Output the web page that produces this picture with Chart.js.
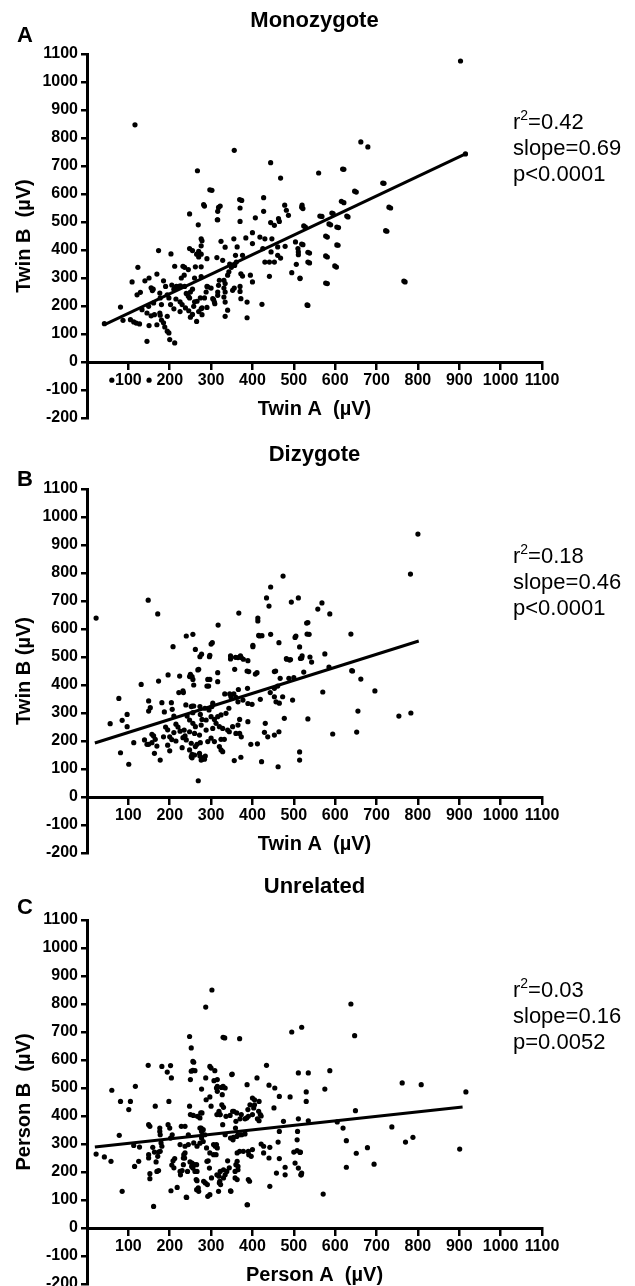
<!DOCTYPE html>
<html>
<head>
<meta charset="utf-8">
<script src="https://cdn.jsdelivr.net/npm/chart.js@4"></script>
<style>
  body { margin: 0; background: #fff; overflow: hidden; }
  #wrap { position: relative; width: 635px; height: 1286px; }
  canvas { position: absolute; left: 0; }
</style>
</head>
<body>
<div id="wrap">
  <canvas id="panelA" width="635" height="440" style="top:0px"></canvas>
  <canvas id="panelB" width="635" height="440" style="top:430px"></canvas>
  <canvas id="panelC" width="635" height="440" style="top:862px"></canvas>
</div>
<script>
// values, [Twin A, Twin B] in µV
const monoPoints = [
  [42,137],[81,196],[87,149],[105,151],[113,143],[119,139],[127,136],[123,338],[109,286],[129,249],[121,240],[145,74],
  [149,199],[145,175],[133,187],[161,211],[163,169],[169,133],[176,175],[177,167],[176,246],[177,229],[180,205],[173,398],
  [169,314],[194,240],[198,229],[202,205],[194,163],[198,104],[194,110],[200,80],[212,68],[203,386],[212,342],[232,342],
  [236,338],[216,270],[222,270],[226,272],[236,270],[240,245],[245,235],[248,229],[238,193],[246,183],[258,199],[266,217],
  [274,229],[248,529],[269,490],[278,433],[248,405],[255,398],[290,270],[300,264],[278,193],[290,195],[278,169],[282,562],
  [315,508],[267,683],[297,615],[306,223],[140,290],[150,300],[155,265],[158,255],[185,290],[190,270],[205,275],[210,260],
  [215,225],[225,215],[230,205],[250,250],[255,260],[260,300],[262,340],[265,385],[270,375],[270,395],[245,330],[228,300],
  [235,310],[180,150],[185,140],[188,125],[210,190],[225,180],[255,170],[265,145],[270,180],[150,130],[155,165],[160,260],
  [260,215],[250,160],[60,-65],[150,-65],[116,847],
  [356,756],[444,712],[468,657],[560,675],[621,688],[662,786],[679,768],[302,613],[284,557],[318,552],[322,557],[316,538],
  [316,508],[374,577],[370,550],[370,502],[427,587],[427,538],[407,515],[444,498],[453,488],[463,512],[465,502],[482,542],
  [487,524],[520,560],[522,548],[528,482],[568,520],[589,490],[595,530],[608,480],[615,574],[621,569],[631,518],[651,607],
  [718,638],[734,550],[725,467],[769,286],[276,440],[276,415],[276,385],[276,340],[276,305],[276,190],[290,369],[314,373],
  [324,431],[334,410],[328,363],[355,440],[363,411],[359,381],[361,357],[357,345],[376,381],[372,315],[376,307],[384,443],
  [400,462],[400,423],[395,310],[400,286],[418,446],[430,440],[447,440],[425,405],[430,357],[441,357],[453,357],[441,306],
  [445,393],[461,411],[461,381],[468,371],[479,413],[504,429],[510,405],[511,393],[511,383],[522,419],[506,349],[495,319],
  [515,298],[538,389],[538,354],[534,202],[581,446],[581,375],[603,339],[607,417],[581,280],[423,206],[387,214],[387,158],
  [370,270],[370,252],[372,226],[356,264],[352,256],[345,350],[349,338],[340,310],[343,322],[331,292],[334,280],[331,264],
  [334,250],[331,232],[334,214],[340,185],[334,163],[320,292],[318,274],[316,250],[316,238],[308,214],[309,208],[304,226],
  [292,268],[288,250],[284,229],[903,1075],[915,743],[618,689],[715,639],[647,610],[519,553],[563,521],[592,532],[628,521],
  [585,493],[604,482],[730,553],[722,469],[524,486],[519,421],[534,392],[534,357],[577,450],[577,379],[604,418],[599,343],
  [577,282],[532,204],[766,289],[515,300],[369,580],[478,560]
];
const diPoints = [
  [22,639],[148,703],[171,654],[317,614],[367,657],[413,639],[413,629],[434,711],[440,682],[444,750],[474,789],[494,696],
  [511,711],[531,621],[558,671],[568,693],[587,654],[800,939],[782,796],[532,582],[638,582],[514,536],[519,496],[539,500],
  [543,482],[575,511],[585,464],[524,446],[642,450],[662,421],[570,375],[696,379],[655,307],[534,279],[754,289],[783,300],
  [594,225],[652,232],[514,161],[514,132],[417,575],[423,576],[444,581],[464,551],[503,570],[516,495],[483,492],[490,489],
  [640,451],[453,448],[488,424],[467,424],[477,281],[462,108],[422,126],[356,130],[372,142],[269,58],[389,269],[431,263],
  [429,231],[437,215],[453,221],[464,233],[396,188],[412,190],[240,575],[262,527],[300,546],[273,501],[296,501],[347,493],
  [359,499],[373,498],[378,492],[389,487],[401,537],[357,456],[391,448],[407,439],[316,444],[316,412],[292,420],[290,396],
  [268,454],[248,430],[256,420],[258,400],[233,373],[224,432],[333,368],[345,368],[355,368],[360,356],[366,384],[388,388],
  [365,340],[377,346],[389,334],[399,331],[419,349],[443,373],[453,388],[461,396],[453,358],[457,340],[465,335],[473,358],
  [497,346],[239,329],[252,323],[258,325],[273,323],[285,317],[295,311],[304,335],[302,323],[316,287],[324,293],[336,299],
  [348,358],[343,317],[248,275],[256,263],[262,251],[276,257],[288,275],[300,287],[308,277],[312,263],[320,251],[235,239],
  [248,233],[260,227],[272,221],[288,239],[304,245],[328,245],[340,239],[344,233],[352,251],[360,227],[369,227],[373,215],
  [365,257],[369,277],[240,204],[252,192],[262,180],[248,168],[252,144],[260,150],[272,156],[276,132],[284,135],[292,198],
  [300,210],[308,198],[324,206],[332,206],[320,180],[324,168],[328,162],[256,581],[208,537],[196,436],[173,414],[131,402],
  [77,352],[56,262],[85,274],[97,295],[97,251],[81,158],[101,117],[113,194],[139,204],[149,343],[153,319],[149,307],
  [157,224],[161,218],[165,206],[145,188],[149,188],[157,194],[169,182],[163,156],[177,132],[181,337],[187,304],[204,337],
  [206,313],[210,289],[222,373],[232,379],[242,289],[232,212],[230,176],[237,218],[254,325],[256,301],[274,295],[278,277],
  [250,438],[254,430],[266,188],[274,194],[273,146],[278,135],[282,141],[286,146],[254,152],[254,140],[270,456],[277,510],
  [297,420],[294,396],[297,506],[303,551],[190,250],[195,240],[200,215],[205,205],[210,230],[215,260],[220,250],[225,235],
  [185,215],[195,185],[200,165],[215,200],[347,504],[365,498],[371,504],[387,450],[411,444],[401,542],[415,577],[482,494],
  [492,491],[505,575],[534,623],[537,581],[520,504],[456,450],[500,426]
];
const unrelPoints = [
  [22,264],[42,254],[58,238],[60,492],[78,331],[85,131],[81,452],[105,452],[101,423],[117,506],[113,295],[127,289],
  [115,220],[125,238],[149,369],[152,363],[148,581],[149,262],[149,250],[152,194],[152,176],[161,77],[159,288],[163,271],
  [167,236],[171,256],[165,435],[173,271],[177,274],[176,357],[176,345],[177,333],[179,304],[181,292],[169,202],[173,205],
  [181,577],[194,557],[202,580],[204,536],[198,452],[196,369],[200,357],[206,333],[202,321],[205,225],[208,240],[210,215],
  [212,248],[203,133],[218,145],[226,190],[230,205],[228,363],[234,262],[236,250],[240,110],[248,684],[252,643],[250,530],
  [252,560],[248,435],[250,405],[258,592],[261,562],[258,304],[266,292],[254,232],[256,214],[260,226],[266,202],[266,169],
  [269,143],[270,131],[273,393],[278,411],[276,357],[281,351],[282,167],[286,161],[288,458],[290,238],[297,577],[300,571],
  [300,435],[297,268],[306,262],[292,113],[297,119],[315,530],[313,500],[313,298],[315,286],[319,417],[321,405],[319,185],
  [321,167],[323,155],[327,476],[333,679],[334,500],[340,240],[344,215],[348,131],[350,548],[355,417],[353,315],[359,357],
  [365,333],[369,676],[369,274],[365,220],[365,208],[363,173],[373,405],[386,393],[389,423],[387,83],[391,262],[397,256],
  [387,512],[393,167],[403,429],[405,440],[411,536],[415,417],[419,405],[302,850],[287,789],[638,800],[647,687],[495,700],
  [519,717],[256,595],[256,563],[329,681],[287,536],[309,562],[307,526],[315,506],[325,502],[329,506],[351,550],[277,496],
  [297,468],[315,488],[434,581],[440,510],[454,500],[465,470],[491,468],[511,554],[535,554],[587,562],[575,496],[530,486],
  [530,452],[649,419],[762,518],[808,512],[737,361],[770,307],[788,324],[627,312],[651,267],[678,287],[694,228],[627,217],
  [619,357],[605,379],[571,121],[535,383],[511,390],[509,345],[508,315],[508,276],[500,271],[516,271],[503,232],[511,214],
  [517,190],[519,196],[479,217],[479,190],[465,248],[465,345],[475,381],[452,429],[462,307],[458,196],[442,288],[440,250],
  [427,268],[442,149],[427,292],[421,300],[400,464],[405,458],[416,452],[412,390],[416,383],[421,400],[394,440],[390,399],
  [400,405],[382,390],[370,390],[360,381],[352,417],[362,411],[336,399],[346,402],[314,405],[322,405],[330,431],[326,440],
  [382,336],[370,333],[362,327],[354,324],[347,321],[374,333],[390,274],[400,280],[378,274],[363,268],[358,179],[363,238],
  [360,226],[390,173],[388,83],[347,133],[358,202],[318,131],[320,161],[322,202],[330,208],[338,202],[334,190],[330,179],
  [293,240],[296,214],[301,179],[291,155],[265,226],[261,202],[264,173],[265,137],[241,109],[237,268],[233,250],[233,226],
  [243,202],[249,236],[253,220],[225,202],[225,298],[245,298],[273,357],[277,345],[277,321],[281,309],[285,333],[289,286],
  [273,303],[257,402],[267,399],[275,411],[237,363],[245,333],[237,292],[310,292],[306,298],[312,262],[314,190],[328,369],
  [334,333],[916,486],[901,282],[515,270],[518,190]
];

// regression line end points
const monoFit = [[45,135],[915,743]];
const diFit = [[19,193],[802,557]];
const unrelFit = [[19,289],[908,432]];

const monoStats = ['r|2|=0.42', 'slope=0.69', 'p<0.0001'];
const diStats = ['r|2|=0.18', 'slope=0.46', 'p<0.0001'];
const unrelStats = ['r|2|=0.03', 'slope=0.16', 'p=0.0052'];

const FONT = 'Arial, "Liberation Sans", Helvetica, sans-serif';

// panel letter and the r2 / slope / p text on the right
const panelText = {
  id: 'panelText',
  afterDraw(chart, args, opts) {
    const ctx = chart.ctx;
    ctx.save();
    ctx.fillStyle = '#000';
    ctx.textBaseline = 'middle';
    ctx.textAlign = 'left';
    ctx.font = 'bold 22px ' + FONT;
    ctx.fillText(opts.letter, 17, opts.letterY);
    opts.stats.forEach((line, i) => {
      const y = opts.statsY + i * 26;
      let x = 513;
      line.split('|').forEach((part, j) => {
        const sup = j === 1;
        ctx.font = (sup ? '14px ' : '22px ') + FONT;
        ctx.fillText(part, x, sup ? y - 7 : y);
        x += ctx.measureText(part).width;
      });
    });
    ctx.restore();
  }
};

function tickFont() { return { family: FONT, size: 16, weight: 'bold' }; }

function makePanel(id, p) {
  new Chart(document.getElementById(id), {
    type: 'scatter',
    data: {
      datasets: [
        {
          data: p.points.map(d => ({ x: d[0], y: d[1] })),
          pointRadius: 2.6,
          pointHoverRadius: 2.6,
          backgroundColor: '#000',
          borderWidth: 0
        },
        {
          data: p.fit.map(d => ({ x: d[0], y: d[1] })),
          showLine: true,
          pointRadius: 0,
          borderColor: '#000',
          borderWidth: 3
        }
      ]
    },
    options: {
      responsive: false,
      animation: false,
      events: [],
      layout: { padding: { left: 0, right: 93, top: 0, bottom: p.bottom } },
      plugins: {
        legend: { display: false },
        tooltip: { enabled: false },
        title: {
          display: true,
          text: p.title,
          fullSize: false,
          color: '#000',
          font: { family: FONT, size: 22, weight: 'bold' },
          padding: { top: p.titleTop, bottom: p.titleBottom }
        },
        panelText: { letter: p.letter, letterY: p.letterY, stats: p.stats, statsY: p.statsY }
      },
      scales: {
        x: {
          type: 'linear',
          min: 0,
          max: 1100,
          position: { y: 0 },
          ticks: {
            stepSize: 100,
            autoSkip: false,
            maxRotation: 0,
            color: '#000',
            font: tickFont(),
            callback: v => (v === 0 ? '' : String(v))
          },
          grid: { drawOnChartArea: false, drawTicks: true, tickLength: 6, lineWidth: 2.5, color: '#000' },
          border: { display: true, width: 3, color: '#000' },
          title: {
            display: true,
            text: p.xTitle,
            color: '#000',
            font: { family: FONT, size: 20, weight: 'bold' },
            padding: { top: 4, bottom: 4 }
          }
        },
        y: {
          min: -200,
          max: 1100,
          ticks: {
            stepSize: 100,
            color: '#000',
            font: tickFont(),
            callback: v => String(v)
          },
          grid: { drawOnChartArea: false, drawTicks: true, tickLength: 6, lineWidth: 2.5, color: '#000' },
          border: { display: true, width: 3, color: '#000' },
          title: {
            display: true,
            text: p.yTitle,
            color: '#000',
            font: { family: FONT, size: 20, weight: 'bold' },
            padding: { top: 12, bottom: 0 }
          },
          afterFit: s => { s.width = 87; }
        }
      }
    },
    plugins: [panelText]
  });
}

makePanel('panelA', {
  points: monoPoints, fit: monoFit, stats: monoStats, statsY: 123,
  title: 'Monozygote', titleTop: 8, titleBottom: 19.6, bottom: 22,
  letter: 'A', letterY: 36,
  xTitle: 'Twin A  (µV)', yTitle: 'Twin B  (µV)'
});
makePanel('panelB', {
  points: diPoints, fit: diFit, stats: diStats, statsY: 127,
  title: 'Dizygote', titleTop: 12, titleBottom: 20.6, bottom: 17,
  letter: 'B', letterY: 50,
  xTitle: 'Twin A  (µV)', yTitle: 'Twin B (µV)'
});
makePanel('panelC', {
  points: unrelPoints, fit: unrelFit, stats: unrelStats, statsY: 129,
  title: 'Unrelated', titleTop: 12, titleBottom: 19.6, bottom: 18,
  letter: 'C', letterY: 46,
  xTitle: 'Person A  (µV)', yTitle: 'Person B  (µV)'
});
</script>
</body>
</html>
